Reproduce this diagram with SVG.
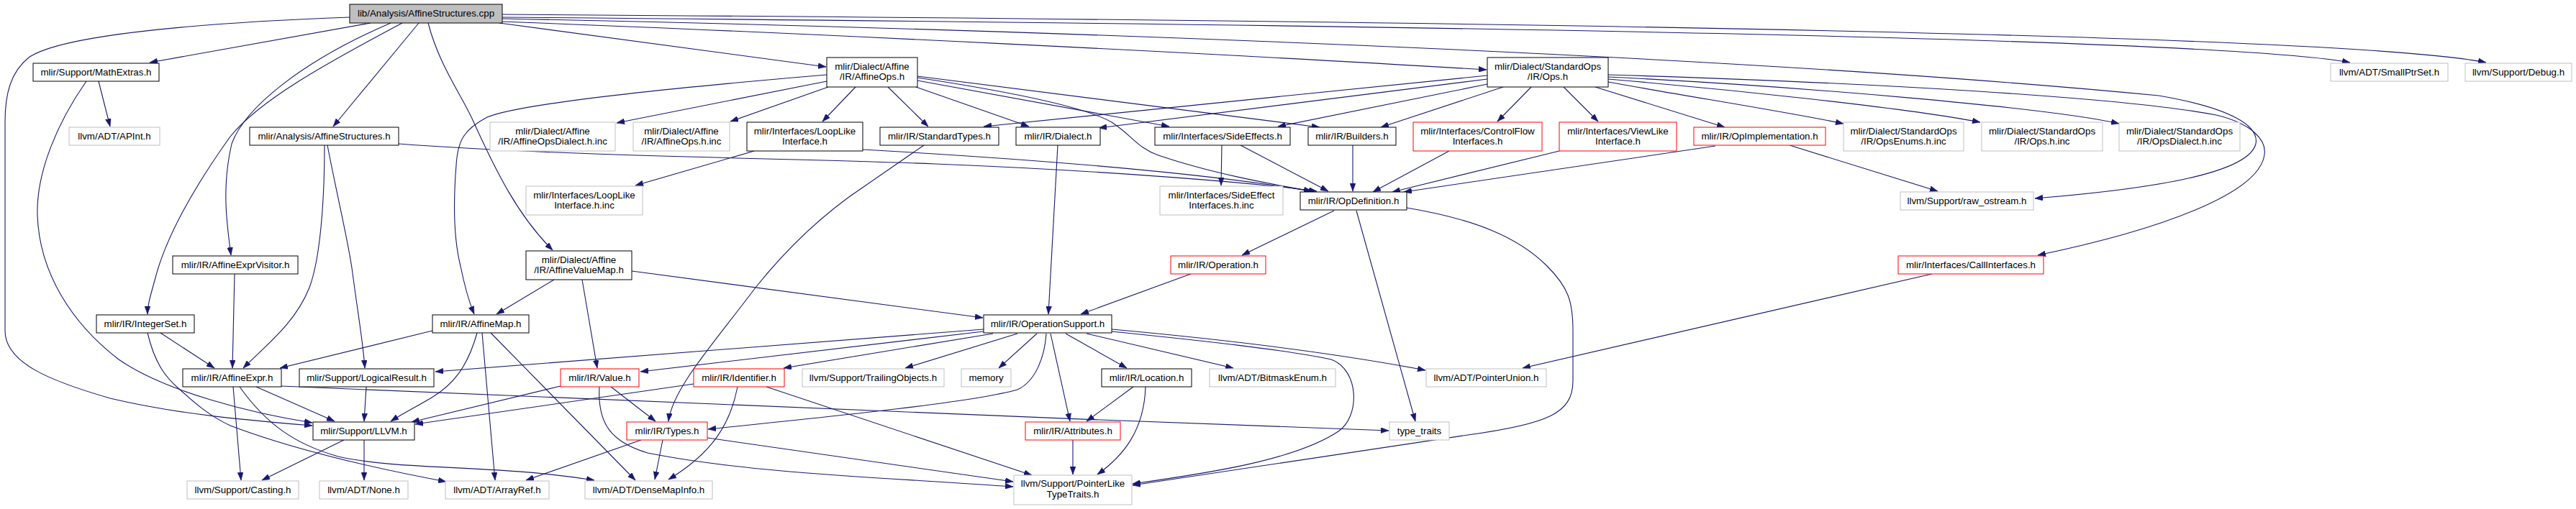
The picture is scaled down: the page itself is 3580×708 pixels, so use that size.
<svg xmlns="http://www.w3.org/2000/svg" width="3580" height="708" viewBox="0 0 3580 708">
<style>
rect{fill:#fff;stroke:#000;stroke-width:1}
rect.g{stroke:#bfbfbf}
rect.r{stroke:#ff0000}
rect.root{fill:#bfbfbf}
text{font-family:"Liberation Sans",Arial,Helvetica,sans-serif;font-size:13.33px;text-anchor:middle;fill:#000}
#edges path{fill:none;stroke:#191970;stroke-width:1.1;marker-end:url(#ah)}
</style>
<defs>
<marker id="ah" markerUnits="userSpaceOnUse" markerWidth="11" markerHeight="8" refX="11" refY="4" orient="auto" viewBox="0 0 11 8">
<path d="M0,0 L11,4 L0,8 z" fill="#191970" stroke="#191970" stroke-width="0.5"/>
</marker>
</defs>
<rect x="0" y="0" width="3580" height="708" style="fill:#fff;stroke:none"/>
<g id="edges">
<path d="M515,32 L208,87"/>
<path d="M486,24 C320,30 90,45 40,80 C15,100 7,130 7,170 L7,460 C7,505 70,530 153,554 C250,577 350,585 434,592"/>
<path d="M543,32 C420,85 340,150 322,200 C308,260 315,310 321,355"/>
<path d="M559,32 C450,90 360,140 320,190 C270,260 230,330 215,390 C208,415 205,425 205,437"/>
<path d="M582,32 L463,176"/>
<path d="M595,32 C610,90 640,130 657,167 C690,240 720,300 768,348"/>
<path d="M694,32 L1148,93"/>
<path d="M698,30 C1100,45 1700,75 2066,97"/>
<path d="M698,20 C1900,28 3250,45 3455,87"/>
<path d="M698,24 C1900,34 3080,52 3266,87"/>
<path d="M698,26 C1400,40 2400,75 3000,133 C3100,150 3140,175 3135,200 C3125,240 3000,262 2828,276"/>
<path d="M2067,105 L1367,176"/>
<path d="M2067,110 L1527,178"/>
<path d="M2067,117 L1776,176"/>
<path d="M2089,121 L1919,177"/>
<path d="M2128,121 L2081,169"/>
<path d="M2173,121 L2221,169"/>
<path d="M2217,121 L2397,177"/>
<path d="M2235,114 C2350,135 2480,155 2562,172"/>
<path d="M2235,110 C2400,124 2650,150 2752,170"/>
<path d="M2235,107 C2500,120 2850,150 2945,172"/>
<path d="M2235,104 C2600,115 2950,135 3080,160 C3130,172 3150,195 3147,215 C3140,270 3000,320 2832,355"/>
<path d="M1149,113 L857,171"/>
<path d="M1151,121 L1015,169"/>
<path d="M1189,121 L1143,169"/>
<path d="M1149,104 C900,125 720,145 677,163 C645,180 636,195 634,230 C630,280 630,330 640,370 C646,400 652,420 659,437"/>
<path d="M1234,121 L1290,176"/>
<path d="M1273,121 L1430,176"/>
<path d="M1275,112 L1625,176"/>
<path d="M1275,106 L1834,177"/>
<path d="M1275,108 C1420,130 1510,150 1545,170 C1575,190 1580,205 1610,216 C1680,240 1760,255 1823,266"/>
<path d="M554,200 C800,218 1100,220 1300,228 C1550,238 1750,255 1830,266"/>
<path d="M451,202 C451,280 445,360 430,400 C410,450 370,480 338,512"/>
<path d="M455,202 C470,280 485,340 490,380 C498,440 505,480 507,512"/>
<path d="M137,113 L153,176"/>
<path d="M120,113 C80,170 50,240 52,300 C55,380 100,450 165,500 C230,545 350,575 434,588"/>
<path d="M326,381 L323,512"/>
<path d="M223,463 L298,512"/>
<path d="M205,463 C215,505 230,525 249,541 C270,560 290,578 320,592 C420,630 540,655 620,670"/>
<path d="M324,538 L335,668"/>
<path d="M333,538 C370,590 410,618 470,635 C560,655 680,645 826,668"/>
<path d="M356,538 L465,586"/>
<path d="M391,537 C800,555 1400,580 1930,599"/>
<path d="M509,538 L506,586"/>
<path d="M478,612 L364,668"/>
<path d="M506,612 L506,668"/>
<path d="M601,460 L389,512"/>
<path d="M663,463 C650,510 630,535 600,553 C580,565 560,575 543,586"/>
<path d="M670,463 L688,668"/>
<path d="M682,463 L883,668"/>
<path d="M770,389 L690,437"/>
<path d="M809,389 L830,512"/>
<path d="M878,377 L1366,442"/>
<path d="M849,538 L911,586"/>
<path d="M779,537 L572,587"/>
<path d="M833,538 C830,590 850,615 900,630 C1050,660 1250,665 1408,677"/>
<path d="M964,534 L577,590"/>
<path d="M1025,538 C1015,590 990,630 929,667"/>
<path d="M1065,538 L1434,661"/>
<path d="M891,612 L731,668"/>
<path d="M921,612 L910,667"/>
<path d="M983,609 L1408,670"/>
<path d="M1367,458 L605,517"/>
<path d="M1367,461 L890,517"/>
<path d="M1380,464 L1089,512"/>
<path d="M1414,464 L1258,512"/>
<path d="M1441,464 L1388,512"/>
<path d="M1481,464 L1566,512"/>
<path d="M1510,464 L1714,512"/>
<path d="M1545,458 C1700,472 1850,490 1981,515"/>
<path d="M1545,461 C1650,472 1780,485 1850,500 C1890,515 1890,580 1860,600 C1800,640 1680,658 1574,673"/>
<path d="M1460,464 L1487,586"/>
<path d="M1454,464 C1452,495 1440,530 1414,542 C1350,560 1150,580 984,597"/>
<path d="M1575,538 L1510,586"/>
<path d="M1592,538 C1590,600 1560,635 1525,660"/>
<path d="M1491,612 L1491,660"/>
<path d="M1655,381 L1502,437"/>
<path d="M1470,202 L1457,437"/>
<path d="M1854,293 L1726,355"/>
<path d="M1885,293 L1967,586"/>
<path d="M1955,289 C2050,305 2110,330 2150,370 C2180,400 2186,420 2186,460 L2186,530 C2186,575 2150,590 2040,605 C1900,625 1750,650 1574,675"/>
<path d="M2384,203 L1951,267"/>
<path d="M2487,202 L2693,266"/>
<path d="M2167,210 L1935,267"/>
<path d="M2014,210 L1908,267"/>
<path d="M1880,202 L1880,266"/>
<path d="M1724,202 L1846,266"/>
<path d="M1698,202 L1697,258"/>
<path d="M1048,210 L883,258"/>
<path d="M1199,208 C1500,225 1700,245 1823,266"/>
<path d="M1284,202 L1200,260 C1140,300 1090,350 1050,400 C990,480 935,540 929,586"/>
<path d="M2685,381 L2116,512"/>
</g>
<g id="n_root"><rect class="root" x="486" y="6" width="212" height="26"/><text x="592" y="23">lib/Analysis/AffineStructures.cpp</text></g>
<g id="n_mathextras"><rect x="46" y="88" width="175" height="25"/><text x="133.5" y="105">mlir/Support/MathExtras.h</text></g>
<g id="n_apint"><rect class="g" x="96" y="177" width="126" height="25"/><text x="159" y="194">llvm/ADT/APInt.h</text></g>
<g id="n_affinestructures_h"><rect x="347" y="177" width="207" height="25"/><text x="450.5" y="194">mlir/Analysis/AffineStructures.h</text></g>
<g id="n_affineops_h"><rect x="1149" y="80" width="126" height="41"/><text x="1212" y="97">mlir/Dialect/Affine</text><text x="1212" y="111">/IR/AffineOps.h</text></g>
<g id="n_affineopsdialect_inc"><rect class="g" x="681" y="170" width="174" height="40"/><text x="768" y="187">mlir/Dialect/Affine</text><text x="768" y="201">/IR/AffineOpsDialect.h.inc</text></g>
<g id="n_affineops_inc"><rect class="g" x="880" y="170" width="134" height="40"/><text x="947" y="187">mlir/Dialect/Affine</text><text x="947" y="201">/IR/AffineOps.h.inc</text></g>
<g id="n_looplike_h"><rect x="1038" y="170" width="161" height="40"/><text x="1118.5" y="187">mlir/Interfaces/LoopLike</text><text x="1118.5" y="201">Interface.h</text></g>
<g id="n_looplike_inc"><rect class="g" x="731" y="259" width="162" height="40"/><text x="812" y="276">mlir/Interfaces/LoopLike</text><text x="812" y="290">Interface.h.inc</text></g>
<g id="n_affinevaluemap"><rect x="731" y="349" width="147" height="40"/><text x="804.5" y="366">mlir/Dialect/Affine</text><text x="804.5" y="380">/IR/AffineValueMap.h</text></g>
<g id="n_standardtypes"><rect x="1223" y="177" width="165" height="25"/><text x="1305.5" y="194">mlir/IR/StandardTypes.h</text></g>
<g id="n_dialect"><rect x="1412" y="177" width="117" height="25"/><text x="1470.5" y="194">mlir/IR/Dialect.h</text></g>
<g id="n_sideeffects"><rect x="1605" y="177" width="188" height="25"/><text x="1699" y="194">mlir/Interfaces/SideEffects.h</text></g>
<g id="n_sideeffect_inc"><rect class="g" x="1612" y="259" width="171" height="40"/><text x="1697.5" y="276">mlir/Interfaces/SideEffect</text><text x="1697.5" y="290">Interfaces.h.inc</text></g>
<g id="n_ops_h"><rect x="2067" y="80" width="168" height="41"/><text x="2151" y="97">mlir/Dialect/StandardOps</text><text x="2151" y="111">/IR/Ops.h</text></g>
<g id="n_builders"><rect x="1818" y="177" width="122" height="25"/><text x="1879" y="194">mlir/IR/Builders.h</text></g>
<g id="n_controlflow"><rect class="r" x="1964" y="170" width="179" height="40"/><text x="2053.5" y="187">mlir/Interfaces/ControlFlow</text><text x="2053.5" y="201">Interfaces.h</text></g>
<g id="n_viewlike"><rect class="r" x="2167" y="170" width="163" height="40"/><text x="2248.5" y="187">mlir/Interfaces/ViewLike</text><text x="2248.5" y="201">Interface.h</text></g>
<g id="n_opimplementation"><rect class="r" x="2354" y="177" width="183" height="25"/><text x="2445.5" y="194">mlir/IR/OpImplementation.h</text></g>
<g id="n_opdefinition"><rect x="1807" y="267" width="148" height="25"/><text x="1881" y="284">mlir/IR/OpDefinition.h</text></g>
<g id="n_opsenums_inc"><rect class="g" x="2562" y="170" width="167" height="40"/><text x="2645.5" y="187">mlir/Dialect/StandardOps</text><text x="2645.5" y="201">/IR/OpsEnums.h.inc</text></g>
<g id="n_ops_inc"><rect class="g" x="2754" y="170" width="168" height="40"/><text x="2838" y="187">mlir/Dialect/StandardOps</text><text x="2838" y="201">/IR/Ops.h.inc</text></g>
<g id="n_opsdialect_inc"><rect class="g" x="2945" y="170" width="168" height="40"/><text x="3029" y="187">mlir/Dialect/StandardOps</text><text x="3029" y="201">/IR/OpsDialect.h.inc</text></g>
<g id="n_raw_ostream"><rect class="g" x="2641" y="267" width="185" height="25"/><text x="2733.5" y="284">llvm/Support/raw_ostream.h</text></g>
<g id="n_smallptrset"><rect class="g" x="3239" y="88" width="163" height="25"/><text x="3320.5" y="105">llvm/ADT/SmallPtrSet.h</text></g>
<g id="n_debug"><rect class="g" x="3426" y="88" width="148" height="25"/><text x="3500" y="105">llvm/Support/Debug.h</text></g>
<g id="n_affineexprvisitor"><rect x="240" y="356" width="174" height="25"/><text x="327" y="373">mlir/IR/AffineExprVisitor.h</text></g>
<g id="n_integerset"><rect x="134" y="438" width="136" height="25"/><text x="202" y="455">mlir/IR/IntegerSet.h</text></g>
<g id="n_affineexpr"><rect x="254" y="513" width="137" height="25"/><text x="322.5" y="530">mlir/IR/AffineExpr.h</text></g>
<g id="n_logicalresult"><rect x="416" y="513" width="187" height="25"/><text x="509.5" y="530">mlir/Support/LogicalResult.h</text></g>
<g id="n_llvm"><rect x="435" y="587" width="141" height="25"/><text x="505.5" y="604">mlir/Support/LLVM.h</text></g>
<g id="n_casting"><rect class="g" x="260" y="669" width="155" height="25"/><text x="337.5" y="686">llvm/Support/Casting.h</text></g>
<g id="n_none"><rect class="g" x="444" y="669" width="123" height="25"/><text x="505.5" y="686">llvm/ADT/None.h</text></g>
<g id="n_affinemap"><rect x="601" y="438" width="134" height="25"/><text x="668" y="455">mlir/IR/AffineMap.h</text></g>
<g id="n_value"><rect class="r" x="779" y="513" width="109" height="25"/><text x="833.5" y="530">mlir/IR/Value.h</text></g>
<g id="n_identifier"><rect class="r" x="964" y="513" width="126" height="25"/><text x="1027" y="530">mlir/IR/Identifier.h</text></g>
<g id="n_trailingobjects"><rect class="g" x="1115" y="513" width="197" height="25"/><text x="1213.5" y="530">llvm/Support/TrailingObjects.h</text></g>
<g id="n_types"><rect class="r" x="871" y="587" width="112" height="25"/><text x="927" y="604">mlir/IR/Types.h</text></g>
<g id="n_arrayref"><rect class="g" x="619" y="669" width="144" height="25"/><text x="691" y="686">llvm/ADT/ArrayRef.h</text></g>
<g id="n_densemapinfo"><rect class="g" x="813" y="669" width="177" height="25"/><text x="901.5" y="686">llvm/ADT/DenseMapInfo.h</text></g>
<g id="n_operation"><rect class="r" x="1627" y="356" width="132" height="25"/><text x="1693" y="373">mlir/IR/Operation.h</text></g>
<g id="n_operationsupport"><rect x="1367" y="438" width="178" height="25"/><text x="1456" y="455">mlir/IR/OperationSupport.h</text></g>
<g id="n_memory"><rect class="g" x="1336" y="513" width="69" height="25"/><text x="1370.5" y="530">memory</text></g>
<g id="n_location"><rect x="1531" y="513" width="125" height="25"/><text x="1593.5" y="530">mlir/IR/Location.h</text></g>
<g id="n_bitmaskenum"><rect class="g" x="1681" y="513" width="175" height="25"/><text x="1768.5" y="530">llvm/ADT/BitmaskEnum.h</text></g>
<g id="n_attributes"><rect class="r" x="1425" y="587" width="132" height="25"/><text x="1491" y="604">mlir/IR/Attributes.h</text></g>
<g id="n_pointerlike"><rect class="g" x="1409" y="661" width="164" height="41"/><text x="1491" y="677">llvm/Support/PointerLike</text><text x="1491" y="692">TypeTraits.h</text></g>
<g id="n_pointerunion"><rect class="g" x="1982" y="513" width="167" height="25"/><text x="2065.5" y="530">llvm/ADT/PointerUnion.h</text></g>
<g id="n_type_traits"><rect class="g" x="1931" y="587" width="83" height="25"/><text x="1972.5" y="604">type_traits</text></g>
<g id="n_callinterfaces"><rect class="r" x="2638" y="356" width="202" height="25"/><text x="2739" y="373">mlir/Interfaces/CallInterfaces.h</text></g>
</svg>
